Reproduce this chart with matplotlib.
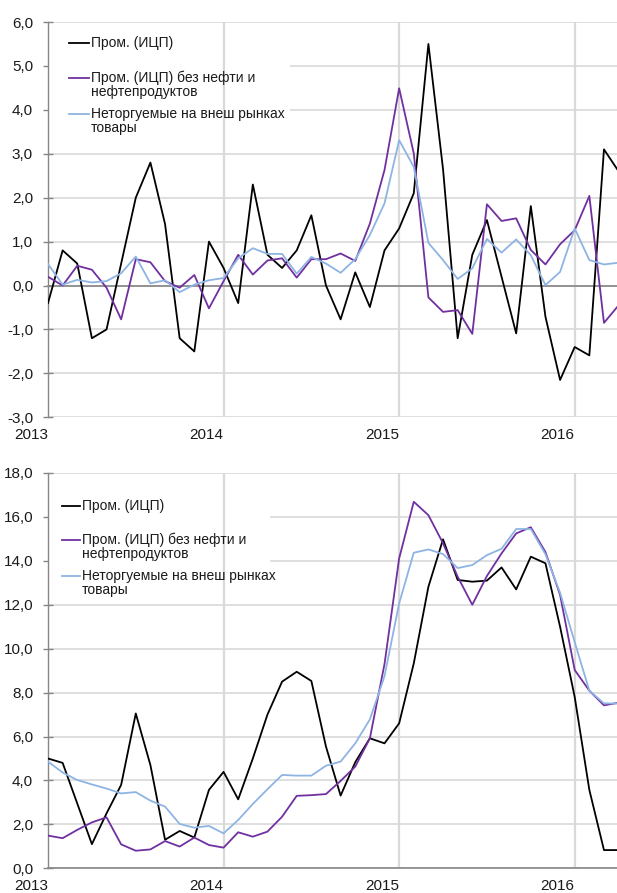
import numpy as np
import matplotlib
matplotlib.use('Agg')
import matplotlib.pyplot as plt
from matplotlib.patches import Rectangle

plt.rcParams['font.family'] = ['Liberation Sans', 'DejaVu Sans']

# monthly data, Jan 2013 - Apr 2016
months = np.arange(40)
year_pos = [0, 12, 24, 36]
year_labels = ['2013', '2014', '2015', '2016']

labels = ['Пром. (ИЦП)',
          'Пром. (ИЦП) без нефти и\nнефтепродуктов',
          'Неторгуемые на внеш рынках\nтовары']
colors = ['#000000', '#7030A0', '#8EB4E3']

# month-on-month changes, %
top_prom = [-0.4, 0.8, 0.5, -1.2, -1.0, 0.5, 2.0, 2.8, 1.4, -1.2,
            -1.5, 1.0, 0.4, -0.4, 2.3, 0.7, 0.4, 0.8, 1.6, 0.0,
            -0.77, 0.3, -0.49, 0.8, 1.3, 2.1, 5.5, 2.65, -1.2, 0.7,
            1.49, 0.2, -1.09, 1.81, -0.71, -2.15, -1.4, -1.59, 3.1, 2.6]
top_noil = [0.2, 0.0, 0.45, 0.36, -0.05, -0.77, 0.6, 0.53, 0.1, -0.05,
            0.24, -0.52, 0.1, 0.7, 0.25, 0.57, 0.62, 0.18, 0.6, 0.6,
            0.73, 0.56, 1.41, 2.63, 4.49, 3.01, -0.27, -0.6, -0.56, -1.1,
            1.85, 1.47, 1.53, 0.81, 0.48, 0.94, 1.26, 2.04, -0.85, -0.45]
top_nontr = [0.49, 0.02, 0.13, 0.07, 0.1, 0.28, 0.66, 0.05, 0.12, -0.15,
             0.02, 0.12, 0.17, 0.62, 0.85, 0.72, 0.72, 0.27, 0.65, 0.5,
             0.29, 0.6, 1.15, 1.87, 3.31, 2.7, 0.97, 0.58, 0.15, 0.39,
             1.06, 0.75, 1.05, 0.69, 0.01, 0.31, 1.3, 0.58, 0.48, 0.52]

# year-on-year changes, %
bot_prom = [5.0, 4.8, 2.95, 1.1, 2.5, 3.8, 7.05, 4.7, 1.3, 1.7,
            1.4, 3.57, 4.39, 3.14, 5.0, 7.0, 8.5, 8.95, 8.53, 5.54,
            3.31, 4.83, 5.92, 5.69, 6.6, 9.33, 12.82, 14.98, 13.13, 13.05,
            13.1, 13.7, 12.7, 14.19, 13.89, 11.0, 7.8, 3.57, 0.83, 0.83]
bot_noil = [1.49, 1.37, 1.75, 2.09, 2.32, 1.09, 0.8, 0.86, 1.24, 0.99,
            1.4, 1.06, 0.94, 1.64, 1.44, 1.67, 2.35, 3.3, 3.33, 3.38,
            3.98, 4.63, 5.92, 9.3, 14.11, 16.69, 16.08, 14.8, 13.28, 12.0,
            13.31, 14.34, 15.25, 15.53, 14.4, 12.45, 9.03, 8.09, 7.42, 7.54]
bot_nontr = [4.86, 4.36, 4.02, 3.82, 3.63, 3.41, 3.47, 3.08, 2.81, 2.02,
             1.85, 1.93, 1.59, 2.2, 2.93, 3.6, 4.25, 4.22, 4.22, 4.67,
             4.86, 5.69, 6.78, 8.75, 12.06, 14.37, 14.52, 14.31, 13.67, 13.81,
             14.26, 14.55, 15.45, 15.45, 14.3, 12.55, 10.3, 8.09, 7.51, 7.5]

top_ticks = list(range(-3, 7))
bot_ticks = list(range(0, 19, 2))

W, H = 617, 893
fig = plt.figure(figsize=(W / 100, H / 100), dpi=100)

# axes boxes in pixels: left, top, right, bottom
box_top = (48, 22, 618.6, 417.3)
box_bot = (48, 473, 618.6, 868.3)


def make_axes(box):
    l, t, r, b = box
    return fig.add_axes([l / W, 1 - b / H, (r - l) / W, (b - t) / H])


def to_ax(box, px, py):
    l, t, r, b = box
    return (px - l) / (r - l), (b - py) / (b - t)


def draw_panel(ax, box, series, yticks, legend_px):
    ax.set_xlim(0, 39)
    ax.set_ylim(yticks[0], yticks[-1])
    ax.set_axisbelow(True)
    ax.set_yticks(yticks)
    ax.set_yticklabels([('%.1f' % v).replace('.', ',') for v in yticks])
    ax.grid(axis='y', color='#d9d9d9', lw=1.2)
    ax.set_xticks(year_pos)
    ax.set_xticklabels(year_labels, ha='right')
    ax.tick_params(axis='x', length=0, pad=7.5, labelsize=11, labelcolor='#1a1a1a')
    ax.tick_params(axis='y', direction='inout', length=6.5, width=1,
                   color='#868686', pad=7.5, labelsize=11, labelcolor='#1a1a1a')
    for s in ['top', 'right', 'bottom']:
        ax.spines[s].set_visible(False)
    ax.spines['left'].set_color('#868686')
    ax.spines['left'].set_linewidth(1.0)

    # legend background hides horizontal grid
    (x0, y0), (x1, y1) = to_ax(box, *legend_px['bg'][:2]), to_ax(box, *legend_px['bg'][2:])
    ax.add_patch(Rectangle((x0, y1), x1 - x0, y0 - y1, transform=ax.transAxes,
                           facecolor='white', edgecolor='none', zorder=1))
    for xp in year_pos[1:]:
        ax.axvline(xp, color='#d9d9d9', lw=1.6, zorder=1.5)
    ax.axhline(0, color='#868686', lw=1.2, zorder=2, clip_on=False)

    for vals, c in zip(series, colors):
        ax.plot(months, vals, color=c, lw=1.3, zorder=3)

    hx0, hx1, tx = legend_px['x']
    for lab, c, ly in zip(labels, colors, legend_px['y']):
        a0 = to_ax(box, hx0, ly)
        a1 = to_ax(box, hx1, ly)
        ax.plot([a0[0], a1[0]], [a0[1], a1[1]], color=c, lw=1.3,
                transform=ax.transAxes, zorder=4, clip_on=False)
        at = to_ax(box, tx, ly - 7)
        ax.text(at[0], at[1], lab, transform=ax.transAxes, ha='left', va='top',
                fontsize=10, color='#1a1a1a', linespacing=1.0, zorder=4)


ax1 = make_axes(box_top)
draw_panel(ax1, box_top, [top_prom, top_noil, top_nontr], top_ticks,
           {'bg': (49, 28, 290, 140), 'x': (69, 89, 91), 'y': [43, 78, 114]})

ax2 = make_axes(box_bot)
draw_panel(ax2, box_bot, [bot_prom, bot_noil, bot_nontr], bot_ticks,
           {'bg': (49, 478, 270, 598), 'x': (62, 80, 82), 'y': [506, 540, 576]})

fig.savefig('out.png', dpi=100)
